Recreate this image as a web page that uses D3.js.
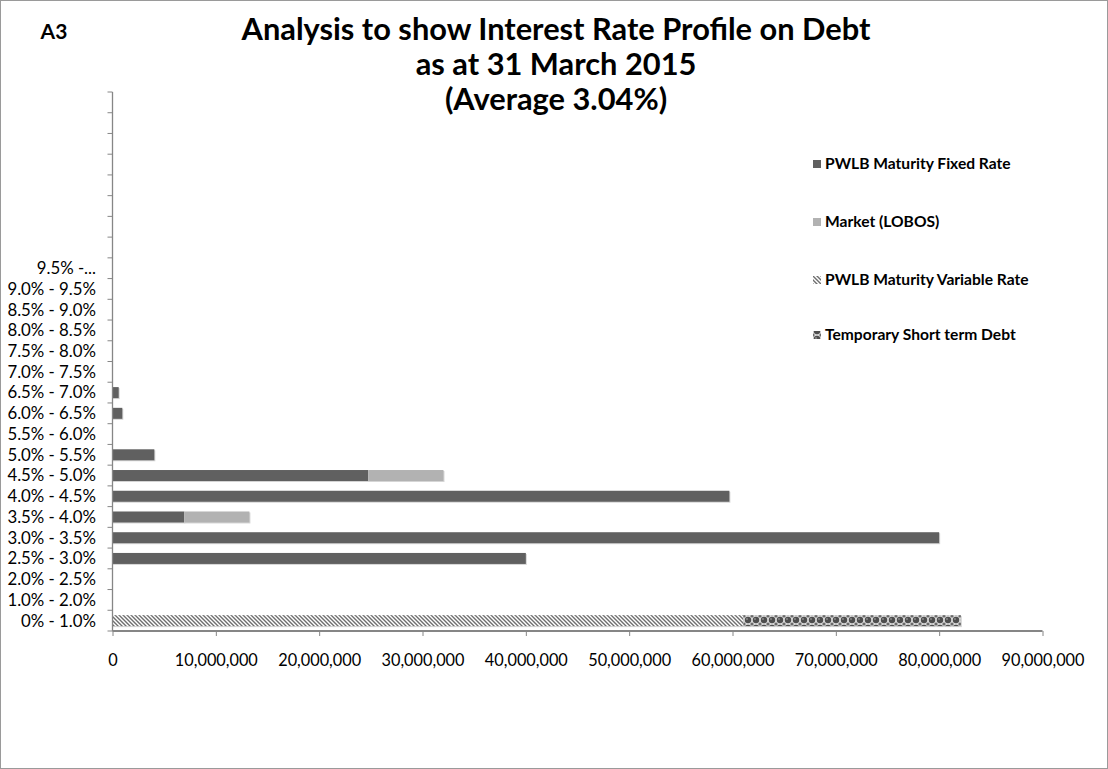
<!DOCTYPE html>
<html>
<head>
<meta charset="utf-8">
<script src="https://cdn.jsdelivr.net/npm/d3@7/dist/d3.min.js"></script>
<style>
  html, body { margin: 0; padding: 0; background: #fff; }
  svg { display: block; font-family: Lato, "Open Sans", sans-serif; }
</style>
</head>
<body>
<svg id="chart" width="1108" height="769"></svg>
<script>
// Interest-rate bands, bottom to top (the last eight bands carry no label)
const categories = [
  "0% - 1.0%", "1.0% - 2.0%", "2.0% - 2.5%", "2.5% - 3.0%", "3.0% - 3.5%",
  "3.5% - 4.0%", "4.0% - 4.5%", "4.5% - 5.0%", "5.0% - 5.5%", "5.5% - 6.0%",
  "6.0% - 6.5%", "6.5% - 7.0%", "7.0% - 7.5%", "7.5% - 8.0%", "8.0% - 8.5%",
  "8.5% - 9.0%", "9.0% - 9.5%", "9.5% - 10.0%",
  "", "", "", "", "", "", "", ""
];

const seriesNames = [
  "PWLB Maturity Fixed Rate",
  "Market (LOBOS)",
  "PWLB Maturity Variable Rate",
  "Temporary Short term Debt"
];

// Debt in each band (£)
const fixedRate = [0, 0, 0, 40000000, 80000000, 6950000, 59700000, 24750000, 4050000, 0,
                   950000, 600000, 0, 0, 0, 0, 0, 0, 0, 0, 0, 0, 0, 0, 0, 0];
const marketLobos = [0, 0, 0, 0, 0, 6300000, 0, 7280000, 0, 0,
                     0, 0, 0, 0, 0, 0, 0, 0, 0, 0, 0, 0, 0, 0, 0, 0];
const variableRate = [61050000, 0, 0, 0, 0, 0, 0, 0, 0, 0,
                      0, 0, 0, 0, 0, 0, 0, 0, 0, 0, 0, 0, 0, 0, 0, 0];
const temporaryDebt = [21050000, 0, 0, 0, 0, 0, 0, 0, 0, 0,
                       0, 0, 0, 0, 0, 0, 0, 0, 0, 0, 0, 0, 0, 0, 0, 0];

const xTicks = [0, 10000000, 20000000, 30000000, 40000000, 50000000, 60000000, 70000000, 80000000, 90000000];

const titleLines = ["Analysis to show Interest Rate Profile on Debt", "as at 31 March 2015", "(Average 3.04%)"];

const svg = d3.select("#chart");
const W = 1108, H = 769;

// outer frame
svg.append("rect").attr("x", 0.5).attr("y", 0.5).attr("width", W - 1).attr("height", H - 1)
  .attr("fill", "#fff").attr("stroke", "#9a9a9a");

// patterns
const defs = svg.append("defs");
const stripe = defs.append("pattern").attr("id", "pat-stripe")
  .attr("patternUnits", "userSpaceOnUse").attr("width", 4).attr("height", 4);
stripe.append("rect").attr("width", 4).attr("height", 4).attr("fill", "#fff");
stripe.append("path").attr("d", "M-1,-1 L5,5 M-1,3 L1,5 M3,-1 L5,1")
  .attr("stroke", "#6e6e6e").attr("stroke-width", 1.4);

const sphere = defs.append("pattern").attr("id", "pat-sphere")
  .attr("patternUnits", "userSpaceOnUse").attr("width", 8).attr("height", 8);
sphere.append("rect").attr("width", 8).attr("height", 8).attr("fill", "#d8d8d8");
sphere.append("circle").attr("cx", 4).attr("cy", 4).attr("r", 3.2).attr("fill", "#4e4e4e");
sphere.append("circle").attr("cx", 0).attr("cy", 0).attr("r", 1.6).attr("fill", "#6a6a6a");
sphere.append("circle").attr("cx", 8).attr("cy", 0).attr("r", 1.6).attr("fill", "#6a6a6a");
sphere.append("circle").attr("cx", 0).attr("cy", 8).attr("r", 1.6).attr("fill", "#6a6a6a");
sphere.append("circle").attr("cx", 8).attr("cy", 8).attr("r", 1.6).attr("fill", "#6a6a6a");
sphere.append("circle").attr("cx", 3).attr("cy", 3).attr("r", 1).attr("fill", "#8a8a8a");

const fills = ["#606060", "#b2b2b2", "url(#pat-stripe)", "url(#pat-sphere)"];

// plot area
const plot = { left: 112.5, right: 1042.5, top: 92, bottom: 631 };

const x = d3.scaleLinear().domain([0, 90000000]).range([plot.left, plot.right]);
const y = d3.scaleBand().domain(d3.range(categories.length))
  .range([plot.bottom, plot.top]).paddingInner(0.47).paddingOuter(0.235);

// stacked series
const rows = categories.map((c, i) => ({
  i, f: fixedRate[i], m: marketLobos[i], v: variableRate[i], t: temporaryDebt[i]
}));
const stack = d3.stack().keys(["f", "m", "v", "t"]);
const layers = stack(rows);

const barG = svg.append("g");
layers.forEach((layer, k) => {
  const g = barG.append("g");
  const data = layer.filter(d => d[1] - d[0] > 0);
  // soft edge under each bar
  g.selectAll("rect.edge").data(data).join("rect").attr("class", "edge")
    .attr("x", d => x(d[0]))
    .attr("y", d => y(d.data.i) + 1)
    .attr("width", d => x(d[1]) - x(d[0]) + 1)
    .attr("height", y.bandwidth())
    .attr("fill", "#d6d6d6");
  g.selectAll("rect.bar").data(data).join("rect").attr("class", "bar")
    .attr("x", d => x(d[0]))
    .attr("y", d => y(d.data.i))
    .attr("width", d => x(d[1]) - x(d[0]))
    .attr("height", y.bandwidth())
    .attr("fill", fills[k]);
});

// y axis: line, ticks at band boundaries, labels
const axisColor = "#868686";
const yAxisG = svg.append("g");
yAxisG.append("line").attr("x1", plot.left).attr("x2", plot.left)
  .attr("y1", plot.top).attr("y2", plot.bottom).attr("stroke", axisColor).attr("stroke-width", 1.3);
const boundaries = d3.range(categories.length + 1).map(k => plot.bottom - k * (plot.bottom - plot.top) / categories.length);
yAxisG.selectAll("line.tick").data(boundaries).join("line").attr("class", "tick")
  .attr("x1", plot.left - 5).attr("x2", plot.left)
  .attr("y1", d => d).attr("y2", d => d)
  .attr("stroke", axisColor);

// shorten a label word by word until it fits, ending it with an ellipsis
function fitLabel(textSel, maxW) {
  textSel.each(function () {
    const el = d3.select(this);
    if (this.getComputedTextLength() <= maxW) return;
    const words = el.text().split(" ");
    while (words.length > 1) {
      words.pop();
      el.text(words.join(" ") + "...");
      if (this.getComputedTextLength() <= maxW) break;
    }
  });
}

yAxisG.selectAll("text").data(categories.map((c, i) => ({ c, i })).filter(d => d.c)).join("text")
  .attr("x", 96).attr("y", d => y(d.i) + y.bandwidth() / 2)
  .attr("dy", "0.35em").attr("text-anchor", "end")
  .attr("font-size", 16.8).attr("fill", "#000")
  .text(d => d.c)
  .call(fitLabel, 93);

// x axis
const xAxisG = svg.append("g").attr("transform", `translate(0,${plot.bottom})`)
  .call(d3.axisBottom(x).tickValues(xTicks).tickSize(5).tickPadding(18)
    .tickFormat(d3.format(",")));
xAxisG.select(".domain").attr("stroke", axisColor).attr("stroke-width", 2.2)
  .attr("d", `M${plot.left},0H${plot.right}`);
xAxisG.selectAll(".tick line").attr("stroke", axisColor);
xAxisG.selectAll(".tick text").attr("font-size", 16.3).attr("fill", "#000")
  .attr("font-family", "Lato, sans-serif");

// titles
svg.append("text").attr("x", 54).attr("y", 39).attr("text-anchor", "middle")
  .attr("font-weight", "bold").attr("font-size", 21).text("A3");
svg.selectAll("text.title").data(titleLines).join("text").attr("class", "title")
  .attr("x", 556).attr("y", (d, i) => 40 + i * 35)
  .attr("text-anchor", "middle").attr("font-weight", "bold").attr("font-size", 30.8)
  .text(d => d);

// legend
const legend = svg.append("g");
const legendY = [164, 222, 280, 335];
seriesNames.forEach((name, k) => {
  const g = legend.append("g").attr("transform", `translate(813,${legendY[k]})`);
  g.append("rect").attr("x", 0).attr("y", -4).attr("width", 8).attr("height", 8)
    .attr("fill", fills[k]);
  g.append("text").attr("x", 12).attr("y", 0).attr("dy", "0.35em")
    .attr("font-weight", "bold").attr("font-size", 15.6).text(name);
});
</script>
</body>
</html>
